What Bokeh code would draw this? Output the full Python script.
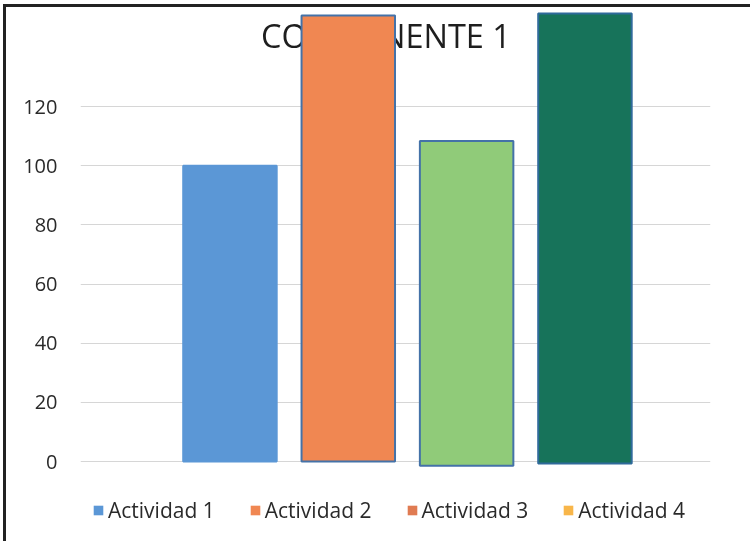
import numpy as np
from bokeh.plotting import figure
from bokeh.models import Range1d, FixedTicker, Label, Legend, LegendItem
from bokeh.core.properties import value
from bokeh.embed import file_html
from bokeh.resources import INLINE

# ---- data ----
categories = ["Actividad 1", "Actividad 2", "Actividad 3", "Actividad 4"]
tops = [100, 150.8, 108.4, 151.5]
bottoms = [0, 0, -1.4, -0.7]
bar_colors = ["#5b97d6", "#f08752", "#90cb79", "#17735a"]
bar_lines = ["#5b97d6", "#4472a8", "#4472a8", "#2f6a9a"]
legend_colors = ["#5b97d6", "#f08752", "#e07b52", "#f8b64a"]
y_ticks = [0, 20, 40, 60, 80, 100, 120]
title_text = "COMPONENTE 1"

FONT = "Open Sans"
TXT = "#2a2a2a"

p = figure(width=747, height=537, output_backend="svg", toolbar_location=None,
           x_range=Range1d(-1.263, 4.061), y_range=Range1d(-28.06, 153.5),
           min_border_left=74, min_border_right=43, min_border_top=0, min_border_bottom=0)
p.styles = {"position": "fixed", "left": "3px", "top": "4px",
            "border-left": "3px solid #222222", "border-top": "3px solid #222222"}
p.outline_line_color = None
p.background_fill_color = "white"
p.border_fill_color = "white"

p.xaxis.visible = False
p.xgrid.visible = False
ya = p.yaxis[0]
ya.ticker = FixedTicker(ticks=y_ticks)
ya.axis_line_color = None
ya.major_tick_line_color = None
ya.minor_tick_line_color = None
ya.major_label_standoff = 17
ya.major_label_text_font = FONT
ya.major_label_text_font_size = "20px"
ya.major_label_text_color = TXT
p.ygrid.ticker = FixedTicker(ticks=y_ticks)
p.ygrid.grid_line_color = "#d6d6d6"
p.ygrid.grid_line_width = 1

# title drawn beneath the bars
title = Label(x=305.5, y=509, x_units="screen", y_units="screen", text=title_text,
              text_font=FONT, text_font_size="32.5px", text_color="#1e1e1e",
              text_align="center", text_baseline="alphabetic", level="underlay")
p.add_layout(title)

xs = list(range(len(categories)))
p.vbar(x=xs, top=tops, bottom=bottoms, width=0.79,
       fill_color=bar_colors, line_color=bar_lines, line_width=2)

items = []
for name, col in zip(categories, legend_colors):
    r = p.vbar(x=[np.nan], top=[np.nan], width=0.5, fill_color=col, line_color=None)
    items.append(LegendItem(label=name, renderers=[r]))

legend = Legend(items=items, orientation="horizontal", location=(12, 20),
                glyph_width=12, glyph_height=12, label_standoff=4, spacing=34,
                padding=0, margin=0, border_line_color=None, background_fill_alpha=0,
                label_text_font=FONT, label_text_font_size="21px", label_text_color=TXT,
                label_height=20)
p.add_layout(legend)

open("out.html", "w").write(file_html(p, INLINE))
